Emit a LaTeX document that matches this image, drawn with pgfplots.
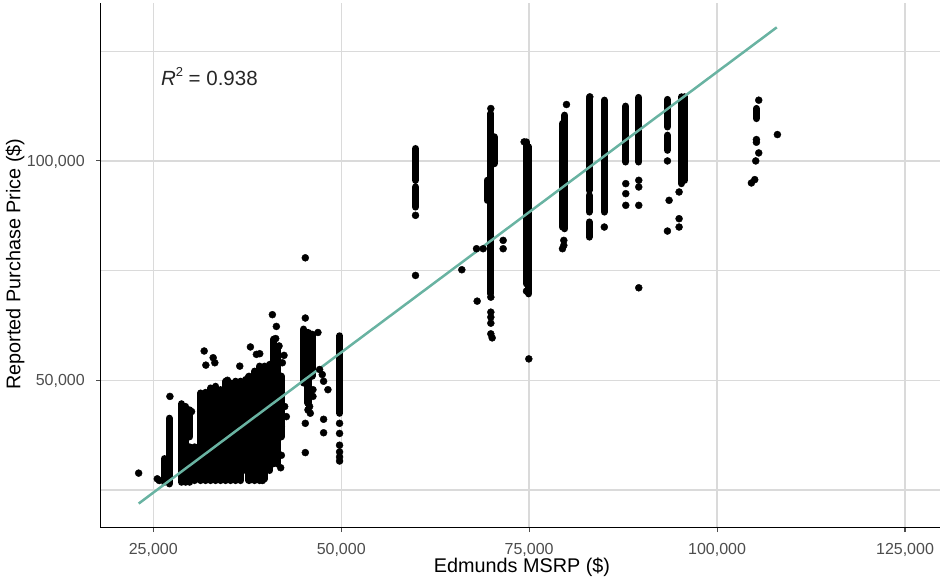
\documentclass[border=0pt]{standalone}
\usepackage{pgfplots}
\pgfplotsset{compat=1.18}
\usepackage{pgfplotstable}
\usepackage{fontspec}
\setmainfont{Liberation Sans}
\definecolor{gridc}{RGB}{218,218,218}
\definecolor{fitc}{RGB}{105,179,162}
\definecolor{tickc}{RGB}{77,77,77}

% dense vertical runs of overlapping points (start/end of each run)
\pgfplotstableread[row sep=\\]{
x y \\
26460 32132 \\ 26460 26764 \\ nan nan \\
27124 41335 \\ 27124 26380 \\ nan nan \\
28761 44633 \\ 28761 26764 \\ nan nan \\
29337 44019 \\ 29337 26764 \\ nan nan \\
29868 43252 \\ 29868 37117 \\ nan nan \\
29868 34816 \\ 29868 26764 \\ nan nan \\
30531 34816 \\ 30531 27147 \\ nan nan \\
31328 47087 \\ 31328 27147 \\ nan nan \\
31992 47240 \\ 31992 27147 \\ nan nan \\
32655 48237 \\ 32655 27147 \\ nan nan \\
33319 48621 \\ 33319 27147 \\ nan nan \\
33983 47854 \\ 33983 27147 \\ nan nan \\
34647 49771 \\ 34647 27147 \\ nan nan \\
35310 49387 \\ 35310 27147 \\ nan nan \\
35974 49771 \\ 35974 27147 \\ nan nan \\
36638 49771 \\ 36638 27147 \\ nan nan \\
37302 50154 \\ 37302 29448 \\ nan nan \\
37744 50921 \\ 37744 27147 \\ nan nan \\
38496 52072 \\ 38496 27147 \\ nan nan \\
39160 53222 \\ 39160 27147 \\ nan nan \\
39824 53222 \\ 39824 27531 \\ nan nan \\
40488 53605 \\ 40488 29448 \\ nan nan \\
41019 59357 \\ 41019 30982 \\ nan nan \\
41461 57056 \\ 41461 30982 \\ nan nan \\
42036 50921 \\ 42036 37117 \\ nan nan \\
45001 61658 \\ 45001 49387 \\ nan nan \\
45576 60891 \\ 45576 44786 \\ nan nan \\
46107 60508 \\ 46107 50921 \\ nan nan \\
49780 60124 \\ 49780 42485 \\ nan nan \\
59883 102816 \\ 59883 95586 \\ nan nan \\
59883 94064 \\ 59883 89498 \\ nan nan \\
69902 110806 \\ 69902 69712 \\ nan nan \\
69414 95586 \\ 69414 91020 \\ nan nan \\
70345 105479 \\ 70345 99391 \\ nan nan \\
74645 104338 \\ 74645 71995 \\ nan nan \\
74956 103196 \\ 74956 69712 \\ nan nan \\
79743 110426 \\ 79743 84552 \\ nan nan \\
79433 108523 \\ 79433 84932 \\ nan nan \\
82977 114231 \\ 82977 93303 \\ nan nan \\
82977 92162 \\ 82977 88357 \\ nan nan \\
82977 86074 \\ 82977 82649 \\ nan nan \\
85000 113850 \\ 85000 88357 \\ nan nan \\
87853 112480 \\ 87853 99772 \\ nan nan \\
89582 114459 \\ 89582 99772 \\ nan nan \\
93395 114003 \\ 93395 107762 \\ nan nan \\
93395 105860 \\ 93395 102435 \\ nan nan \\
95257 114611 \\ 95257 94825 \\ nan nan \\
95700 114611 \\ 95700 95586 \\ nan nan \\
105231 111948 \\ 105231 109665 \\
}\segs

% individual points
\pgfplotstableread[row sep=\\]{
x y \\
23053 28835 \\ 25531 27531 \\ 25797 27147 \\ 27212 46320 \\ 30089 42869 \\
31770 56673 \\ 31992 53452 \\ 32965 55139 \\ 33186 53989 \\ 34868 50001 \\
36505 53222 \\ 37921 57593 \\ 38718 55906 \\ 39160 56059 \\ 40842 64955 \\
41373 62271 \\ 41284 59511 \\ 41727 57823 \\ 42391 55676 \\ 42169 53989 \\
42036 32899 \\ 41948 30062 \\ 39514 27147 \\ 40045 29831 \\ 42479 44019 \\
42700 41718 \\ 42036 39418 \\ 45223 77916 \\ 45223 64189 \\ 46904 60891 \\
45798 44019 \\ 45886 42485 \\ 45223 40185 \\ 47656 41105 \\ 47656 38037 \\
45223 33513 \\ 47125 52455 \\ 47479 51305 \\ 47656 49771 \\ 48231 47854 \\
46240 47854 \\ 46240 46320 \\ 45576 43252 \\ 49780 40185 \\ 49780 37884 \\
49780 35200 \\ 49780 33666 \\ 49780 32516 \\ 49780 31595 \\ 59883 87596 \\
59883 73898 \\ 66045 75191 \\ 68084 68038 \\ 67996 79986 \\ 69902 111948 \\
69902 68951 \\ 69902 65527 \\ 69902 64385 \\ 69902 63015 \\ 69902 60580 \\
70079 59667 \\ 68882 79986 \\ 71542 81888 \\ 71542 79986 \\ 74335 104338 \\
74956 54873 \\ 74645 70321 \\ 79965 112861 \\ 79610 81888 \\ 79610 80747 \\
79433 79986 \\ 83066 114611 \\ 85000 84932 \\ 87853 94825 \\ 87853 92542 \\
87853 89879 \\ 89582 95586 \\ 89582 94064 \\ 89582 89879 \\ 89582 71082 \\
93395 100000 \\ 93616 91020 \\ 93395 84019 \\ 94946 92923 \\ 94946 86835 \\
94946 84932 \\ 105541 113850 \\ 105231 104870 \\ 105231 104262 \\ 105541 101826 \\
105142 100000 \\ 105009 95738 \\ 104566 94977 \\ 108024 106012 \\
}\pts

\begin{document}
\begin{tikzpicture}
\useasboundingbox (0,0) rectangle (941pt,577pt);
\begin{axis}[
  at={(100.7pt,49.3pt)}, anchor=south west,
  scale only axis, width=839.3pt, height=524.4pt,
  xmin=18005, xmax=129654, ymin=16393, ymax=135936,
  axis x line*=bottom, axis y line*=left,
  axis line style={black, line width=1.1pt},
  xtick={25000,50000,75000,100000,125000},
  xticklabels={{25,000},{50,000},{75,000},{100,000},{125,000}},
  ytick={50000,100000},
  yticklabels={{50,000},{100,000}},
  minor ytick={25000,75000,125000},
  xmajorgrids, ymajorgrids, yminorgrids,
  major grid style={gridc, line width=1.4pt},
  minor grid style={gridc, line width=1.4pt},
  tick align=outside, major tick length=4.4pt, minor tick length=0pt,
  tick style={tickc, line width=1.1pt},
  ticklabel style={font=\fontsize{16pt}{19pt}\selectfont, text=tickc, inner sep=0pt},
  xticklabel style={anchor=base, yshift=-22.7pt},
  yticklabel style={anchor=base east, xshift=-11.4pt, yshift=-5.7pt},
]
\addplot[black, line width=7.2pt, line cap=round, no markers, unbounded coords=jump] table {\segs};
\addplot[only marks, mark=*, mark size=3.5pt, black] table {\pts};
\addplot[fitc, line width=2.5pt, no markers] coordinates {(23059,21900) (107940,130450)};
\node[anchor=base west, font=\fontsize{20.5pt}{24pt}\selectfont, text=black!85, inner sep=0pt]
  at (axis cs:26000,117215) {\textit{R}\raisebox{9pt}{\fontsize{13pt}{13pt}\selectfont 2} = 0.938};
\end{axis}
\node[font=\fontsize{19.8pt}{24pt}\selectfont, anchor=base, inner sep=0pt] at (522pt,4.6pt) {Edmunds MSRP (\$)};
\node[font=\fontsize{19.8pt}{24pt}\selectfont, anchor=base, inner sep=0pt, rotate=90] at (20.5pt,313pt) {Reported Purchase Price (\$)};
\end{tikzpicture}
\end{document}
